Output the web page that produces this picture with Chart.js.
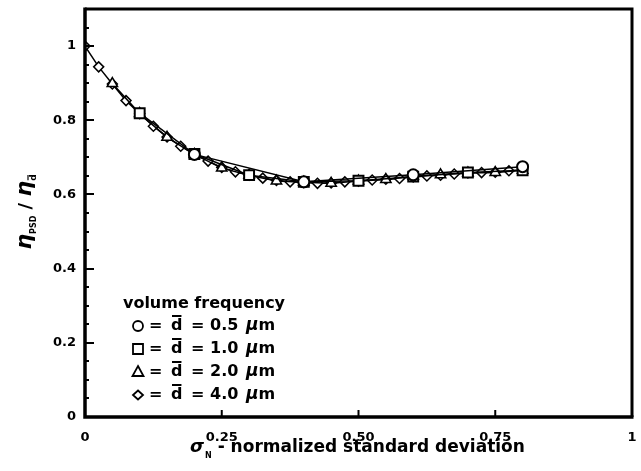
<!DOCTYPE html>
<html><head><meta charset="utf-8">
<script src="https://cdn.jsdelivr.net/npm/chart.js@4/dist/chart.umd.min.js"></script>
<style>html,body{margin:0;padding:0;background:#fff;}</style>
</head><body>
<canvas id="c" width="641" height="471" style="display:block;width:641px;height:471px"></canvas>
<script>
// ---- data ----
const xCircle = [0.2, 0.4, 0.6, 0.8];
const yCircle = [0.708, 0.634, 0.653, 0.675];
const xSquare = [0.1, 0.2, 0.3, 0.4, 0.5, 0.6, 0.7, 0.8];
const ySquare = [0.819, 0.709, 0.652, 0.634, 0.637, 0.648, 0.659, 0.665];
const xTriangle = [0.05, 0.1, 0.15, 0.2, 0.25, 0.3, 0.35, 0.4, 0.45, 0.5, 0.55, 0.6, 0.65, 0.7, 0.75, 0.8];
const yTriangle = [0.899, 0.818, 0.754, 0.708, 0.671, 0.652, 0.636, 0.633, 0.630, 0.636, 0.640, 0.649, 0.653, 0.658, 0.659, 0.665];
const xDiamond = [0, 0.025, 0.05, 0.075, 0.1, 0.125, 0.15, 0.175, 0.2, 0.225, 0.25, 0.275, 0.3, 0.325, 0.35, 0.375, 0.4,
                  0.425, 0.45, 0.475, 0.5, 0.525, 0.55, 0.575, 0.6, 0.625, 0.65, 0.675, 0.7, 0.725, 0.75, 0.775, 0.8];
const yDiamond = [1.0, 0.944, 0.898, 0.853, 0.818, 0.784, 0.755, 0.730, 0.708, 0.690, 0.673, 0.661, 0.652, 0.644, 0.638, 0.634, 0.632,
                  0.630, 0.631, 0.634, 0.636, 0.639, 0.641, 0.643, 0.647, 0.650, 0.652, 0.655, 0.658, 0.659, 0.660, 0.664, 0.666];
const seriesDiameters = ['0.5', '1.0', '2.0', '4.0'];
const legendTitle = 'volume frequency';
const xTickValues = [0, 0.25, 0.5, 0.75, 1];
const xTickLabels = ['0', '0.25', '0.50', '0.75', '1'];
const yTickValues = [0, 0.2, 0.4, 0.6, 0.8, 1];
const yTickLabels = ['0', '0.2', '0.4', '0.6', '0.8', '1'];

const pts = (xs, ys) => xs.map((x, i) => ({x: x, y: ys[i]}));
const FONT = '"DejaVu Sans", sans-serif';

function ds(data, style, r, bw) {
  return {data: data, showLine: true, borderColor: '#000', borderWidth: 1.5, tension: 0,
    pointStyle: style, pointRadius: r, pointBorderWidth: bw, pointBorderColor: '#000',
    pointBackgroundColor: '#fff', backgroundColor: '#fff', pointHoverRadius: r};
}

function drawSym(ctx, style, x, y) {
  ctx.save();
  ctx.strokeStyle = '#000'; ctx.fillStyle = '#fff'; ctx.lineWidth = 1.8;
  ctx.beginPath();
  if (style === 'circle') { ctx.arc(x, y, 5, 0, Math.PI * 2); }
  else if (style === 'rect') { ctx.rect(x - 5, y - 5, 10, 10); }
  else if (style === 'triangle') { ctx.moveTo(x, y - 6); ctx.lineTo(x + 5.5, y + 4); ctx.lineTo(x - 5.5, y + 4); ctx.closePath(); }
  else { ctx.moveTo(x, y - 4.5); ctx.lineTo(x + 5, y); ctx.lineTo(x, y + 4.5); ctx.lineTo(x - 5, y); ctx.closePath(); }
  ctx.fill(); ctx.stroke();
  ctx.restore();
}

function noPad(s) { s.paddingLeft = 0; s.paddingRight = 0; s.paddingTop = 0; s.paddingBottom = 0; }

const decor = {
  id: 'decor',
  afterDraw(chart) {
    const ctx = chart.ctx, a = chart.chartArea, xs = chart.scales.x, ys = chart.scales.y;
    ctx.save();
    ctx.strokeStyle = '#000'; ctx.lineCap = 'butt';
    // frame
    ctx.lineWidth = 3;
    ctx.beginPath(); ctx.moveTo(a.left, a.top); ctx.lineTo(a.right, a.top); ctx.lineTo(a.right, a.bottom); ctx.stroke();
    ctx.lineWidth = 3.5;
    ctx.beginPath(); ctx.moveTo(a.left, a.top - 1.5); ctx.lineTo(a.left, a.bottom); ctx.lineTo(a.right + 1.5, a.bottom); ctx.stroke();
    // inward ticks on y axis
    ctx.lineWidth = 2;
    for (let i = 1; i <= 21; i++) {
      const py = Math.round(ys.getPixelForValue(i * 0.05));
      const len = (i % 4 === 0) ? 9 : 4;
      ctx.beginPath(); ctx.moveTo(a.left, py); ctx.lineTo(a.left + len, py); ctx.stroke();
    }
    // inward ticks on x axis
    [0.25, 0.5, 0.75].forEach(v => {
      const px = xs.getPixelForValue(v);
      ctx.beginPath(); ctx.moveTo(px, a.bottom); ctx.lineTo(px, a.bottom - 7); ctx.stroke();
    });

    ctx.fillStyle = '#000';
    ctx.textBaseline = 'alphabetic';
    // x title
    let x = 190;
    const base = 452;
    ctx.font = 'italic bold 18px ' + FONT;
    ctx.textAlign = 'left';
    ctx.fillText('σ', x, base); x += ctx.measureText('σ').width + 1;
    ctx.font = 'bold 8px ' + FONT;
    ctx.fillText('N', x, base + 6); x += ctx.measureText('N').width;
    ctx.font = 'bold 17px ' + FONT;
    ctx.fillText(' - normalized standard deviation', x, base);

    // y title (rotated)
    ctx.save();
    ctx.translate(31, 212);
    ctx.rotate(-Math.PI / 2);
    const parts = [
      {t: 'η', f: 'italic bold 22px ' + FONT, dy: 0},
      {t: 'PSD', f: 'bold 8px ' + FONT, dy: 5},
      {t: ' / ', f: 'bold 18px ' + FONT, dy: 0},
      {t: 'η', f: 'italic bold 22px ' + FONT, dy: 0},
      {t: 'd', f: 'bold 9px ' + FONT, dy: 5, bar: true}
    ];
    let tw = 0;
    parts.forEach(p => { ctx.font = p.f; p.w = ctx.measureText(p.t).width; tw += p.w; });
    let cx = -tw / 2;
    parts.forEach(p => {
      ctx.font = p.f;
      ctx.fillText(p.t, cx, p.dy);
      if (p.bar) {
        ctx.lineWidth = 1.2;
        ctx.beginPath(); ctx.moveTo(cx + 0.5, p.dy - 8); ctx.lineTo(cx + p.w - 0.5, p.dy - 8); ctx.stroke();
      }
      cx += p.w;
    });
    ctx.restore();

    // legend
    ctx.textBaseline = 'middle';
    ctx.font = 'bold 16px ' + FONT;
    ctx.textAlign = 'center';
    ctx.fillText(legendTitle, 204, 304);
    ctx.textAlign = 'left';
    const styles = ['circle', 'rect', 'triangle', 'rectRot'];
    const rows = [326, 349, 372, 395];
    seriesDiameters.forEach((d, i) => {
      const y = rows[i];
      drawSym(ctx, styles[i], 138, y);
      ctx.font = 'bold 16px ' + FONT;
      ctx.fillText('=', 149, y);
      ctx.fillText('d', 171, y);
      const dw = ctx.measureText('d').width;
      ctx.lineWidth = 2;
      ctx.beginPath(); ctx.moveTo(172, y - 10); ctx.lineTo(171 + dw - 1, y - 10); ctx.stroke();
      ctx.fillText('=', 191, y);
      ctx.fillText(d, 210, y);
      ctx.font = 'italic bold 17px ' + FONT;
      ctx.fillText('µ', 246, y);
      const mw = ctx.measureText('µ').width;
      ctx.font = 'bold 16px ' + FONT;
      ctx.fillText('m', 246 + mw, y);
    });
    ctx.restore();
  }
};

new Chart(document.getElementById('c'), {
  type: 'scatter',
  data: {
    datasets: [
      ds(pts(xCircle, yCircle), 'circle', 5.5, 2),
      ds(pts(xSquare, ySquare), 'rect', 7, 2),
      ds(pts(xTriangle, yTriangle), 'triangle', 6, 1.5),
      ds(pts(xDiamond, yDiamond), 'rectRot', 5, 1.5)
    ]
  },
  options: {
    responsive: false,
    animation: false,
    devicePixelRatio: 1,
    layout: {padding: {top: 5, right: 8, left: 0, bottom: 0}},
    plugins: {legend: {display: false}, tooltip: {enabled: false}},
    scales: {
      x: {
        type: 'linear', min: 0, max: 1,
        afterBuildTicks: s => { s.ticks = xTickValues.map(v => ({value: v})); },
        afterFit: s => { s.height = 54; noPad(s); },
        grid: {display: false, drawTicks: false},
        border: {display: false},
        ticks: {padding: 13, color: '#000', font: {family: FONT, size: 13, weight: 'bold'},
                maxRotation: 0, autoSkip: false,
                callback: (v, i) => xTickLabels[i]}
      },
      y: {
        type: 'linear', min: 0, max: 1.1,
        afterBuildTicks: s => { s.ticks = yTickValues.map(v => ({value: v})); },
        afterFit: s => { s.width = 85; noPad(s); },
        grid: {display: false, drawTicks: false},
        border: {display: false},
        ticks: {padding: 9, color: '#000', font: {family: FONT, size: 13, weight: 'bold'},
                autoSkip: false,
                callback: (v, i) => yTickLabels[i]}
      }
    }
  },
  plugins: [decor]
});
</script>
</body></html>
